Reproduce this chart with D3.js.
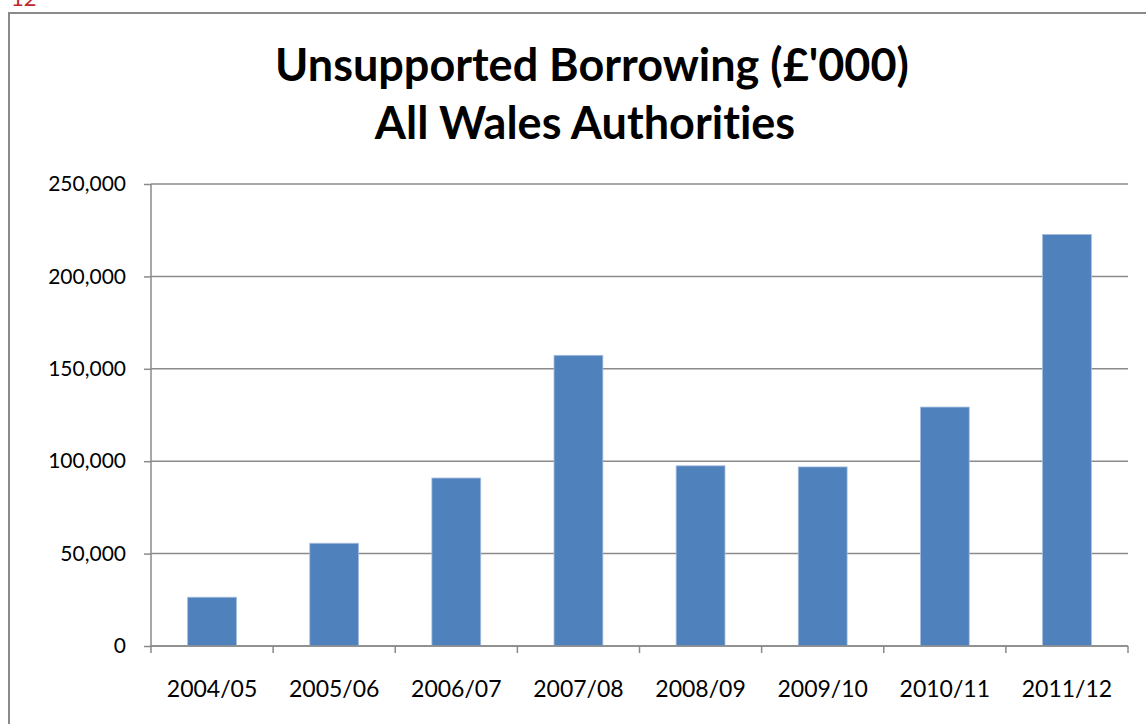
<!DOCTYPE html>
<html>
<head>
<meta charset="utf-8">
<script src="https://cdn.jsdelivr.net/npm/d3@7"></script>
<style>
  body { margin: 0; background: #fff; }
  svg { display: block; font-family: Lato, "Open Sans", sans-serif; font-variant-ligatures: none; }
</style>
</head>
<body>
<div id="chart"></div>
<script>
// data
let years = ["2004/05", "2005/06", "2006/07", "2007/08", "2008/09", "2009/10", "2010/11", "2011/12"];
let borrowing = [26400, 55600, 90900, 157300, 97500, 96900, 129300, 222700];
let yTicks = [0, 50000, 100000, 150000, 200000, 250000];
let titleLines = ["Unsupported Borrowing (£'000)", "All Wales Authorities"];

let W = 1146, H = 724;
let margin = {top: 184, right: 18, bottom: 78, left: 151};
let width = W - margin.left - margin.right;
let height = H - margin.top - margin.bottom;

let svg = d3.select("#chart").append("svg")
    .attr("width", W)
    .attr("height", H);

// page number peeking in at the top
svg.append("text")
    .attr("x", 11)
    .attr("y", 6)
    .attr("fill", "#c0272d")
    .attr("font-size", "22px")
    .text("12");

// outer chart border (runs off the page at right/bottom)
svg.append("rect")
    .attr("x", 9)
    .attr("y", 13)
    .attr("width", W + 20)
    .attr("height", H + 20)
    .attr("fill", "none")
    .attr("stroke", "#8a8a8a")
    .attr("stroke-width", 2);

// title
svg.append("text")
    .attr("text-anchor", "middle")
    .attr("font-weight", "bold")
    .attr("font-size", "45px")
    .selectAll("tspan")
    .data(titleLines)
    .enter().append("tspan")
    .attr("x", function(d, i) { return i === 0 ? 592 : 585; })
    .attr("y", function(d, i) { return 81 + i * 58; })
    .text(function(d) { return d; });

let g = svg.append("g")
    .attr("transform", "translate(" + margin.left + "," + margin.top + ")");

let x = d3.scaleBand()
    .domain(years)
    .range([0, width])
    .paddingInner(0.6)
    .paddingOuter(0.3);

let y = d3.scaleLinear()
    .domain([0, 250000])
    .range([height, 0]);

// gridlines
g.selectAll(".grid")
    .data(yTicks)
    .enter().append("line")
    .attr("class", "grid")
    .attr("x1", 0)
    .attr("x2", width)
    .attr("y1", function(d) { return y(d); })
    .attr("y2", function(d) { return y(d); })
    .attr("stroke", "#8a8a8a")
    .attr("stroke-width", 1.5);

// bars
g.selectAll(".bar")
    .data(borrowing)
    .enter().append("rect")
    .attr("class", "bar")
    .attr("x", function(d, i) { return x(years[i]); })
    .attr("y", function(d) { return y(d); })
    .attr("width", x.bandwidth())
    .attr("height", function(d) { return height - y(d); })
    .attr("fill", "#4f81bd")
    .attr("stroke", "#a7bfde")
    .attr("stroke-width", 0.8);

// y axis
let yAxis = g.append("g")
    .call(d3.axisLeft(y)
        .tickValues(yTicks)
        .tickSize(7)
        .tickPadding(18)
        .tickFormat(d3.format(",")));

// x axis: ticks sit on the band boundaries
let xAxis = g.append("g")
    .attr("transform", "translate(0," + height + ")");

xAxis.append("line")
    .attr("x1", 0).attr("x2", width)
    .attr("stroke", "#8a8a8a").attr("stroke-width", 1.5);

xAxis.selectAll(".xtick")
    .data(d3.range(years.length + 1))
    .enter().append("line")
    .attr("class", "xtick")
    .attr("x1", function(d) { return d * width / years.length; })
    .attr("x2", function(d) { return d * width / years.length; })
    .attr("y1", 0).attr("y2", 7)
    .attr("stroke", "#8a8a8a").attr("stroke-width", 1.5);

xAxis.selectAll(".xlabel")
    .data(years)
    .enter().append("text")
    .attr("class", "xlabel")
    .attr("x", function(d) { return x(d) + x.bandwidth() / 2; })
    .attr("y", 51)
    .attr("text-anchor", "middle")
    .attr("font-size", "23px")
    .attr("fill", "#000")
    .text(function(d) { return d; });

yAxis.select(".domain").attr("stroke", "#8a8a8a").attr("stroke-width", 1.5);
yAxis.selectAll(".tick line").attr("stroke", "#8a8a8a").attr("stroke-width", 1.5);
yAxis.selectAll(".tick text")
    .attr("font-size", "21px")
    .attr("font-family", "Lato, sans-serif")
    .attr("fill", "#000");
yAxis.select(".domain").attr("d", "M0," + height + "V0");
</script>
</body>
</html>
